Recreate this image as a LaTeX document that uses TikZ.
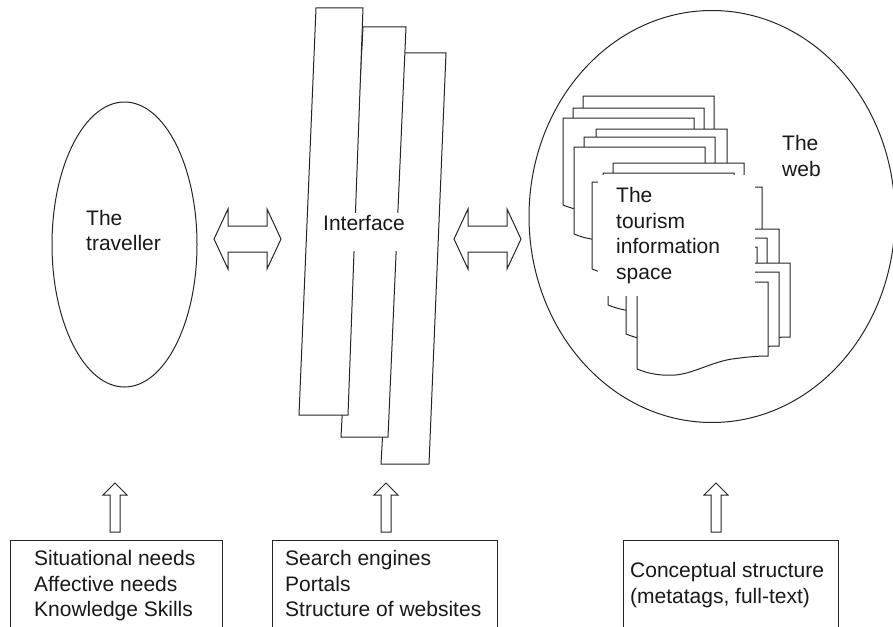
\documentclass[tikz,border=0pt]{standalone}
\usepackage{fontspec}
\setmainfont{Liberation Sans}
\usetikzlibrary{shapes.geometric}
\begin{document}
\begin{tikzpicture}[x=1pt, y=-1pt,
  ink/.style={draw=black!85, line width=1pt, line join=miter},
  lbl/.style={font=\fontsize{21}{25.5}\selectfont, text=black!90, inner sep=0pt, align=left},
  % one web page: flat top, wavy lower edge
  sheet/.pic={\path[ink, fill=white] (0,0) -- (131,0) -- (131,74)
      .. controls (120,74) and (110,75) .. (95,77)
      .. controls (75,80) and (55,92) .. (38,93)
      .. controls (25,94) and (12,92) .. (0,87) -- cycle;},
  % hollow left-right block arrow
  dblarrow/.pic={\path[ink, fill=white] (-33.5,0) -- (-19.5,-30) -- (-19.5,-13)
      -- (19.5,-13) -- (19.5,-30) -- (33.5,0) -- (19.5,30) -- (19.5,13)
      -- (-19.5,13) -- (-19.5,30) -- cycle;},
  % hollow upward block arrow, tip at the origin
  uparrow/.pic={\path[ink, fill=white] (0,0) -- (12,12) -- (5,12) -- (5,49)
      -- (-5,49) -- (-5,12) -- (-12,12) -- cycle;}
]
\clip (0,0) rectangle (893,626);
\fill[white] (0,0) rectangle (893,626);

% the web
\node[ink, ellipse, minimum width=366, minimum height=412, inner sep=0pt] (web) at (712,216.5) {};

% the traveller
\node[ink, ellipse, minimum width=145, minimum height=285, inner sep=0pt] (traveller) at (124.5,244.5) {};
\node[lbl, anchor=north west] (travtext) at (86,210) {The\\traveller};

% interface panels, back to front
\path[ink, fill=white] (404,53) -- (446,53) -- (429,464) -- (381,464) -- cycle;
\path[ink, fill=white] (363,27) -- (406,27) -- (388,437) -- (341,437) -- cycle;
\path[ink, fill=white] (316,8) -- (363,8) -- (348,415) -- (299,415) -- cycle;
\node[lbl, fill=white, inner xsep=3pt, text height=17pt, text depth=21pt, anchor=base west] (iface) at (320,230) {Interface};

% stacks of pages inside the web
\foreach \px/\py in {583/96, 573/108, 563/118, 596/129, 584/137, 574/147,
                     613/163, 603/173, 592/182, 631/187, 648/229, 608/218,
                     636/238, 626/247, 659/263, 648/272, 637/282}
  \path (\px,\py) pic {sheet};
\node[lbl, fill=white, text width=121pt, inner xsep=18pt, minimum height=121pt, anchor=north west] (space) at (598,175)
  {The\\tourism\\information\\space};
\node[lbl, anchor=north west] (webtext) at (782,135.5) {The\\web};

% two-way arrows
\path (247.5,239) pic {dblarrow};
\path (487.5,239) pic {dblarrow};

% bottom boxes
\node[ink, minimum width=212pt, minimum height=120pt, inner sep=0pt, anchor=north west] (needbox) at (10,540) {};
\node[ink, minimum width=225pt, minimum height=120pt, inner sep=0pt, anchor=north west] (toolbox) at (272,540) {};
\node[ink, minimum width=215pt, minimum height=120pt, inner sep=0pt, anchor=north west] (conbox) at (623,540) {};
\node[lbl, anchor=north west] (needtext) at (34,550.5) {Situational needs\\Affective needs\\Knowledge Skills};
\node[lbl, anchor=north west] (tooltext) at (285,550.5) {Search engines\\Portals\\Structure of websites};
\node[lbl, anchor=north west] (context) at (630,562.5) {Conceptual structure\\(metatags, full-text)};

% upward arrows
\path (115,483) pic {uparrow};
\path (386,483) pic {uparrow};
\path (716,483) pic {uparrow};
\end{tikzpicture}
\end{document}
